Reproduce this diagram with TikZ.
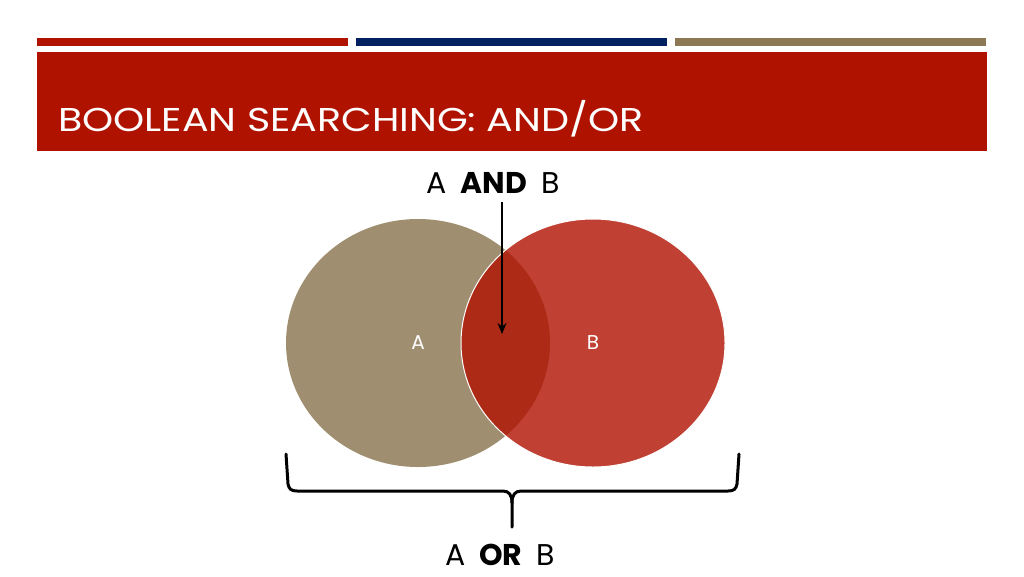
\documentclass[tikz,border=0pt]{standalone}
\usepackage{fontspec}
\setmainfont{Poppins}
\newfontfamily\titlefont{Poppins}[FakeStretch=1.2]
\usepackage{tikz}
\usetikzlibrary{arrows.meta,positioning,shapes.geometric}
\definecolor{hdrred}{RGB}{176,18,0}
\definecolor{hdrblue}{RGB}{0,32,96}
\definecolor{hdrtan}{RGB}{140,120,85}
\definecolor{settan}{RGB}{160,142,112}

\begin{document}
\begin{tikzpicture}[
x=1pt,y=-1pt,
venn/.style={
  ellipse,
  minimum width=264pt,
  minimum height=248pt,
  inner sep=0pt,
  text=white,
  font=\fontsize{20}{24}\selectfont
},
op/.style={
  font=\fontsize{30}{34}\selectfont
},
brace/.style={
  line width=3pt,
  line join=round,
  line cap=round
}
]
\useasboundingbox (0,0) rectangle (1024,576);

% header
\fill[hdrred] (37,38) rectangle (348,46);
\fill[hdrblue] (356,38) rectangle (667,46);
\fill[hdrtan] (675,38) rectangle (986,46);
\fill[hdrred] (37,52) rectangle (987,151);
\node[anchor=base west,text=white,font=\titlefont\fontsize{33}{38}\selectfont,inner sep=0pt]
  (title) at (58,131) {BOOLEAN SEARCHING: AND/OR};

% sets
\node[venn,fill=settan] (setA) at (418,343) {A};
\node[venn,fill=hdrred,fill opacity=0.8,draw=white,line width=1pt,text opacity=1]
  (setB) at (593,343) {B};

\node[op,anchor=base,inner sep=0pt] (andtxt) at (493,193)
  {A\hspace{14pt}\textbf{AND}\hspace{14pt}B};
\coordinate (andpt) at (502,334);
\draw[line width=2.5pt,-{Stealth[length=11pt,width=9pt]}] (andtxt.south -| andpt) ++(0,9) -- (andpt);

% brace
\coordinate (brL) at (286,454);
\coordinate (brR) at (739,454);
\coordinate (brtip) at (512,527);
\draw[brace] (brL) -- (288,484) .. controls (289,489) and (291,491) .. (297,491)
  -- (503,491) .. controls (509,491) and (512,495) .. (512,503) -- (brtip);
\draw[brace] (brR) -- (737,484) .. controls (736,489) and (734,491) .. (728,491)
  -- (521,491) .. controls (515,491) and (512,495) .. (512,503);

\node[op,anchor=base,inner sep=0pt] (ortxt) at (500,565)
  {A\hspace{14pt}\textbf{OR}\hspace{14pt}B};
\end{tikzpicture}
\end{document}
